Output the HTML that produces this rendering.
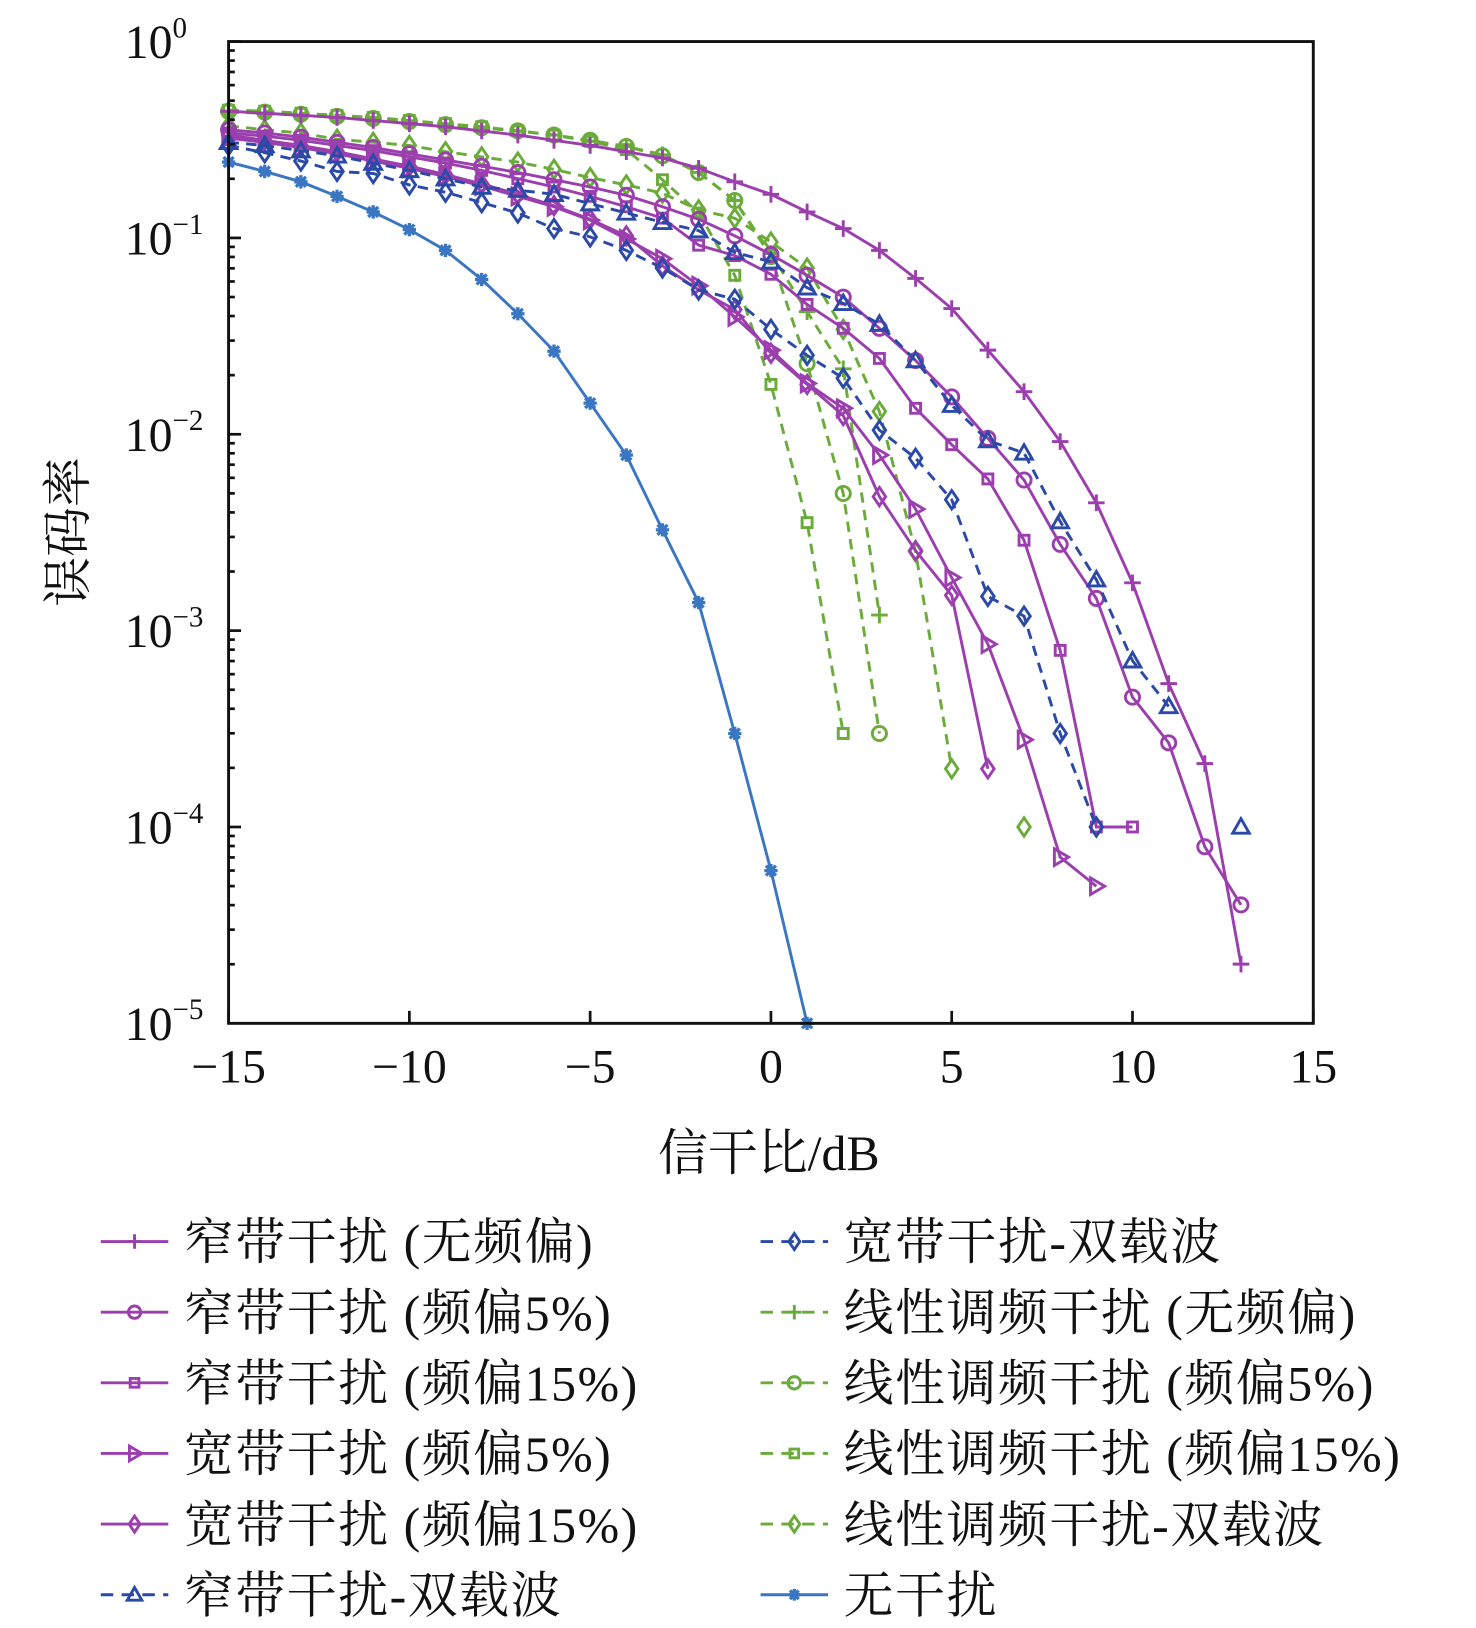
<!DOCTYPE html>
<html><head><meta charset="utf-8"><style>html,body{margin:0;padding:0;background:#fff}svg{display:block}</style></head>
<body>
<svg id="s" xmlns="http://www.w3.org/2000/svg" width="1476" height="1628" viewBox="0 0 1420.6 1567" preserveAspectRatio="none" font-family="'Liberation Serif','Noto Serif CJK SC',serif">
<rect width="1420.6" height="1567" fill="#fff"/>
<g id="plot"></g>
<g id="axes"></g>
<g id="leg"></g>
</svg>
<script>
const NS="http://www.w3.org/2000/svg";
function el(p,t,a,txt){const e=document.createElementNS(NS,t);for(const k in a)e.setAttribute(k,a[k]);if(txt!==undefined)e.textContent=txt;p.appendChild(e);return e;}
const L=220,R=1264,T=40,B=985;
const X=v=>L+(v+15)*(R-L)/30;
const P='#9c3fae',G='#6aab3a',DB='#2b49a6',LB='#3a76c2';
const SW=2.8;
const plot=document.getElementById('plot'),axes=document.getElementById('axes'),leg=document.getElementById('leg');
function marker(g,m,x,y,c,s){s=s||8;const st={fill:'none',stroke:c,'stroke-width':SW};
 if(m==='+'){el(g,'path',Object.assign({d:`M${x-s} ${y}H${x+s}M${x} ${y-s}V${y+s}`},st));}
 else if(m==='o'){el(g,'circle',Object.assign({cx:x,cy:y,r:s*0.85},st));}
 else if(m==='s'){el(g,'rect',Object.assign({x:x-s*0.6,y:y-s*0.6,width:s*1.2,height:s*1.2},st));}
 else if(m==='>'){el(g,'path',Object.assign({d:`M${x-s*0.7} ${y-s}L${x+s} ${y}L${x-s*0.7} ${y+s}Z`},st));}
 else if(m==='d'){el(g,'path',Object.assign({d:`M${x} ${y-s*1.1}L${x+s*0.75} ${y}L${x} ${y+s*1.1}L${x-s*0.75} ${y}Z`},st));}
 else if(m==='^'){el(g,'path',Object.assign({d:`M${x} ${y-s}L${x+s} ${y+s*0.75}L${x-s} ${y+s*0.75}Z`},st));}
 else if(m==='*'){el(g,'path',{d:`M${x-s*.8} ${y}H${x+s*.8}M${x} ${y-s*.8}V${y+s*.8}M${x-s*.6} ${y-s*.6}L${x+s*.6} ${y+s*.6}M${x-s*.6} ${y+s*.6}L${x+s*.6} ${y-s*.6}`,stroke:c,'stroke-width':3.2});}
}
function seq(start,arr){return arr.map((y,i)=>y===null?null:[start+i,y]);}
const series=[
 {c:G,m:'+',d:true,p:seq(-15,[108,109,111,113,115,117,120,123,126,130,136,141,149,166,193,244,300,355,592])},
 {c:G,m:'o',d:true,p:seq(-15,[107,108,110,112,114,117,120,123,126,130,135,141,150,166,193,247,350,475,706])},
 {c:G,m:'s',d:true,p:seq(-15,[106,107,109,111,113,116,119,122,126,130,136,144,173,205,265,370,503,706])},
 {c:G,m:'d',d:true,p:seq(-15,[121,125,128,134,137,140,146,151,156,163,171,178,186,202,210,233,258,317,396,531,740,null,796])},
 {c:P,m:'+',d:false,p:seq(-15,[107,109,111,113,116,119,122,126,130,135,140,146,152,162,175,187,204,220,241,268,297,337,377,425,484,561,658,735,928])},
 {c:P,m:'o',d:false,p:seq(-15,[125,128,132,137,142,148,154,160,166,173,180,188,199,211,227,245,265,286,316,347,382,422,462,524,576,671,715,815,871])},
 {c:P,m:'s',d:false,p:seq(-15,[128,131,135,140,145,151,157,164,172,180,189,199,210,236,246,264,293,316,345,393,428,461,520,626,796,796])},
 {c:P,m:'>',d:false,p:seq(-15,[133,137,142,148,155,162,170,179,189,199,212,230,249,275,305,337,369,393,438,490,556,620,712,825,853])},
 {c:P,m:'d',d:false,p:seq(-15,[130,135,140,146,153,160,168,177,187,198,211,227,256,279,298,340,370,400,478,530,573,740])},
 {c:DB,m:'^',d:true,p:seq(-15,[137,140,145,150,157,164,172,180,183,187,196,205,214,222,243,252,277,292,312,347,390,424,436,502,558,636,680,null,796])},
 {c:DB,m:'d',d:true,p:seq(-15,[140,147,155,165,167,178,185,195,205,220,228,241,258,279,288,317,342,364,414,441,481,574,593,706,796])},
 {c:LB,m:'*',d:false,p:seq(-15,[156,165,175,189,204,221,241,269,302,338,388,438,510,580,706,838,985])},
];
series.forEach(s=>{const g=el(plot,'g',{});let d='',pen=false;
 s.p.forEach(pt=>{if(!pt){pen=false;return;}d+=(pen?'L':'M')+X(pt[0]).toFixed(1)+' '+pt[1];pen=true;});
 el(g,'path',{d,fill:'none',stroke:s.c,'stroke-width':SW,'stroke-dasharray':s.d?'10 7':'none'});
 s.p.forEach(pt=>{if(pt)marker(g,s.m,X(pt[0]),pt[1],s.c);});
});
el(axes,'rect',{x:L,y:T,width:R-L,height:B-T,fill:'none',stroke:'#111','stroke-width':2.8});
const dec=(B-T)/5;
for(let k=0;k<5;k++){for(let m=2;m<=10;m++){const y=T+dec*(k+1)-dec*Math.log10(m);const len=m===10?12:6;
 el(axes,'line',{x1:L,x2:L+len,y1:y,y2:y,stroke:'#111','stroke-width':2.6});}}
for(let k=0;k<=5;k++){const y=T+dec*k;const t=el(axes,'text',{x:120,y:y+16,'font-size':46,fill:'#111'});
 t.textContent='10';el(t,'tspan',{dy:-20,'font-size':28},k===0?'0':'\u2212'+k);}
[-15,-10,-5,0,5,10,15].forEach(v=>{const x=X(v);
 el(axes,'line',{x1:x,x2:x,y1:B,y2:B-12,stroke:'#111','stroke-width':2.6});
 el(axes,'text',{x:x,y:1042,'font-size':46,'text-anchor':'middle',fill:'#111'},v<0?'\u2212'+(-v):''+v);});
el(axes,'text',{x:740,y:1126,'font-size':48,'text-anchor':'middle',fill:'#111'},'信干比/dB');
el(axes,'text',{x:0,y:0,'font-size':48,'text-anchor':'middle',fill:'#111',transform:'translate(82,512) rotate(-90)'},'误码率');
const items=[
 [0,P,'+',false,'窄带干扰 (无频偏)'],[0,P,'o',false,'窄带干扰 (频偏5%)'],[0,P,'s',false,'窄带干扰 (频偏15%)'],
 [0,P,'>',false,'宽带干扰 (频偏5%)'],[0,P,'d',false,'宽带干扰 (频偏15%)'],[0,DB,'^',true,'窄带干扰-双载波'],
 [1,DB,'d',true,'宽带干扰-双载波'],[1,G,'+',true,'线性调频干扰 (无频偏)'],[1,G,'o',true,'线性调频干扰 (频偏5%)'],
 [1,G,'s',true,'线性调频干扰 (频偏15%)'],[1,G,'d',true,'线性调频干扰-双载波'],[1,LB,'*',false,'无干扰']];
items.forEach((it,i)=>{const col=it[0],row=i%6;const x0=col?732:97,y=1195+row*68;
 el(leg,'path',{d:`M${x0} ${y}H${x0+65}`,stroke:it[1],'stroke-width':SW,'stroke-dasharray':it[3]?'12 8':'none'});
 marker(leg,it[2],x0+32.5,y,it[1],7);
 el(leg,'text',{x:x0+80,y:y+17,'font-size':48,'letter-spacing':1.5,fill:'#111'},it[4]);});
</script>
</body></html>
